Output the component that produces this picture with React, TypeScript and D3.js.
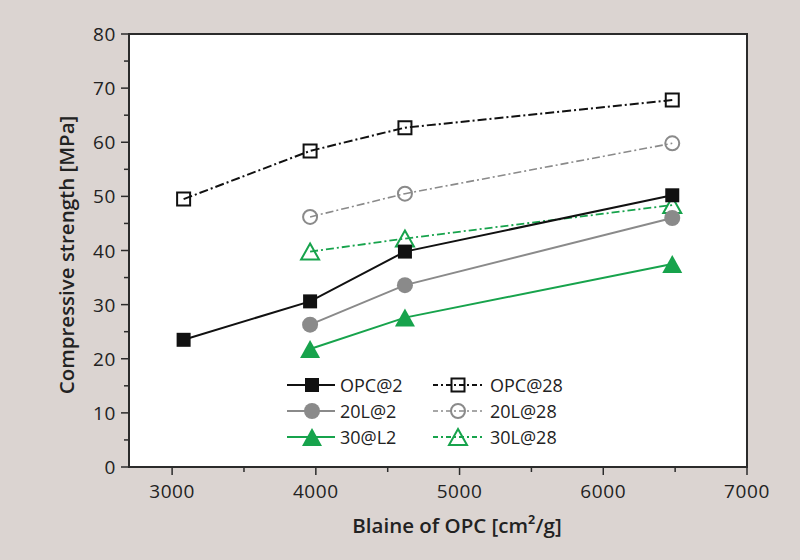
import { useRef, useEffect } from 'react';
import * as d3 from 'd3';

// Blaine fineness of the OPC [cm²/g]
const blaineOpc = [3080, 3960, 4620, 6480];
const blaineBlend = [3960, 4620, 6480];

// compressive strength [MPa]
const opc2 = [23.5, 30.6, 39.8, 50.2];
const opc28 = [49.5, 58.4, 62.7, 67.8];
const l20at2 = [26.3, 33.6, 46.0];
const l20at28 = [46.2, 50.5, 59.8];
const l30at2 = [21.8, 27.6, 37.5];
const l30at28 = [39.8, 42.2, 48.4];

const xTicks = [3000, 4000, 5000, 6000, 7000];
const xMinorTicks = [3500, 4500, 5500, 6500];
const yTicks = [0, 10, 20, 30, 40, 50, 60, 70, 80];
const yMinorTicks = [5, 15, 25, 35, 45, 55, 65, 75];

const BLACK = '#111111';
const GRAY = '#8a8a8a';
const GREEN = '#17a34c';
const FONT = '"Open Sans", "Noto Sans", sans-serif';

type Marker = 'square' | 'circle' | 'triangle';
interface Series {
  name: string;
  xs: number[];
  ys: number[];
  color: string;
  marker: Marker;
  filled: boolean;
  dash: string | null;
  width: number;
}

const seriesList: Series[] = [
  { name: 'OPC@2', xs: blaineOpc, ys: opc2, color: BLACK, marker: 'square', filled: true, dash: null, width: 2 },
  { name: '20L@2', xs: blaineBlend, ys: l20at2, color: GRAY, marker: 'circle', filled: true, dash: null, width: 2 },
  { name: '30@L2', xs: blaineBlend, ys: l30at2, color: GREEN, marker: 'triangle', filled: true, dash: null, width: 2 },
  { name: 'OPC@28', xs: blaineOpc, ys: opc28, color: BLACK, marker: 'square', filled: false, dash: '9,3,2,3', width: 2 },
  { name: '20L@28', xs: blaineBlend, ys: l20at28, color: GRAY, marker: 'circle', filled: false, dash: '8,3,2,3', width: 1.6 },
  { name: '30L@28', xs: blaineBlend, ys: l30at28, color: GREEN, marker: 'triangle', filled: false, dash: '8,3,2,3', width: 1.8 },
];

function markerPath(m: Marker, filled: boolean): string {
  if (m === 'square') {
    const s = filled ? 7 : 6.5;
    return `M${-s},${-s}H${s}V${s}H${-s}Z`;
  }
  if (m === 'circle') {
    const r = filled ? 8 : 7;
    return `M${r},0A${r},${r} 0 1,1 ${-r},0A${r},${r} 0 1,1 ${r},0Z`;
  }
  const w = filled ? 10 : 9;
  const h = filled ? 9 : 8;
  return `M0,${-h}L${w},${h}L${-w},${h}Z`;
}

export default function App() {
  const svgRef = useRef<SVGSVGElement>(null);

  useEffect(() => {
    document.body.style.margin = '0';
    const svg = d3.select(svgRef.current);
    if (!svg.node()) return;
    svg.selectAll('*').remove();

    const W = 800, H = 560;
    const left = 129, right = 747, top = 34, bottom = 467;

    const x = d3.scaleLinear().domain([2700, 7000]).range([left, right]);
    const y = d3.scaleLinear().domain([0, 80]).range([bottom, top]);

    svg.append('rect').attr('width', W).attr('height', H).attr('fill', '#dbd4d1');
    svg.append('rect')
      .attr('x', left).attr('y', top)
      .attr('width', right - left).attr('height', bottom - top)
      .attr('fill', '#ffffff');

    const axisColor = '#2b2b2b';

    // x axis ticks
    const xg = svg.append('g');
    xTicks.forEach(t => {
      xg.append('line')
        .attr('x1', x(t)).attr('x2', x(t))
        .attr('y1', bottom).attr('y2', bottom + 8)
        .attr('stroke', axisColor).attr('stroke-width', 1.5);
      xg.append('text')
        .attr('x', x(t)).attr('y', bottom + 31)
        .attr('text-anchor', 'middle')
        .style('font-family', FONT).style('font-size', '19px')
        .style('letter-spacing', '0.6px')
        .style('fill', '#222')
        .text(t);
    });
    xMinorTicks.forEach(t => {
      xg.append('line')
        .attr('x1', x(t)).attr('x2', x(t))
        .attr('y1', bottom).attr('y2', bottom + 5)
        .attr('stroke', axisColor).attr('stroke-width', 1.5);
    });

    // y axis ticks
    const yg = svg.append('g');
    yTicks.forEach(t => {
      yg.append('line')
        .attr('x1', left - 8).attr('x2', left)
        .attr('y1', y(t)).attr('y2', y(t))
        .attr('stroke', axisColor).attr('stroke-width', 1.5);
      yg.append('text')
        .attr('x', left - 13).attr('y', y(t) + 7)
        .attr('text-anchor', 'end')
        .style('font-family', FONT).style('font-size', '19px')
        .style('letter-spacing', '0.6px')
        .style('fill', '#222')
        .text(t);
    });
    yMinorTicks.forEach(t => {
      yg.append('line')
        .attr('x1', left - 5).attr('x2', left)
        .attr('y1', y(t)).attr('y2', y(t))
        .attr('stroke', axisColor).attr('stroke-width', 1.5);
    });

    svg.append('rect')
      .attr('x', left).attr('y', top)
      .attr('width', right - left).attr('height', bottom - top)
      .attr('fill', 'none')
      .attr('stroke', axisColor).attr('stroke-width', 2);

    // axis titles
    svg.append('text')
      .attr('x', 457).attr('y', 533)
      .attr('text-anchor', 'middle')
      .style('font-family', FONT).style('font-size', '20.5px').style('font-weight', '600')
      .style('fill', '#222')
      .text('Blaine of OPC [cm²/g]');

    svg.append('text')
      .attr('transform', `translate(74, 255) rotate(-90)`)
      .attr('text-anchor', 'middle')
      .style('font-family', FONT).style('font-size', '20.5px').style('font-weight', '600')
      .style('fill', '#222')
      .text('Compressive strength [MPa]');

    // series
    const line = d3.line<[number, number]>()
      .x(d => x(d[0]))
      .y(d => y(d[1]));

    const drawMarker = (g: d3.Selection<SVGGElement, unknown, null, undefined>, s: Series, cx: number, cy: number) => {
      g.append('path')
        .attr('d', markerPath(s.marker, s.filled))
        .attr('transform', `translate(${cx},${cy})`)
        .attr('fill', s.filled ? s.color : 'none')
        .attr('stroke', s.color)
        .attr('stroke-width', s.filled ? 0 : 2);
    };

    const plot = svg.append('g');
    [...seriesList].reverse().forEach(s => {
      const pts = s.xs.map((v, i) => [v, s.ys[i]] as [number, number]);
      plot.append('path')
        .attr('d', line(pts))
        .attr('fill', 'none')
        .attr('stroke', s.color)
        .attr('stroke-width', s.width)
        .attr('stroke-dasharray', s.dash ?? null);
      pts.forEach(p => drawMarker(plot, s, x(p[0]), y(p[1])));
    });

    // legend
    const legend = svg.append('g');
    const rowY = [385, 411, 437];
    const cols = [
      { x1: 287, x2: 335, mx: 312, tx: 340 },
      { x1: 433, x2: 485, mx: 458, tx: 490 },
    ];
    seriesList.forEach((s, i) => {
      const c = cols[Math.floor(i / 3)];
      const ry = rowY[i % 3];
      legend.append('line')
        .attr('x1', c.x1).attr('x2', c.x2)
        .attr('y1', ry).attr('y2', ry)
        .attr('stroke', s.color)
        .attr('stroke-width', s.width)
        .attr('stroke-dasharray', s.dash ? '5,3,2,3' : null);
      drawMarker(legend, s, c.mx, ry);
      legend.append('text')
        .attr('x', c.tx).attr('y', ry + 6.5)
        .style('font-family', FONT).style('font-size', '18px')
        .style('fill', '#222')
        .text(s.name);
    });
  }, []);

  return <svg ref={svgRef} width={800} height={560} style={{ display: 'block' }} />;
}
